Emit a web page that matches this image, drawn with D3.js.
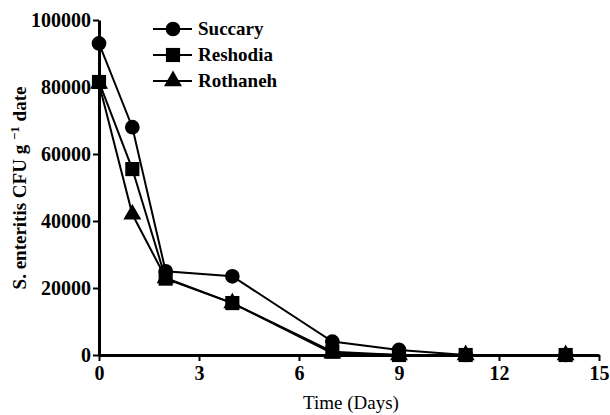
<!DOCTYPE html>
<html>
<head>
<meta charset="utf-8">
<script src="https://cdn.jsdelivr.net/npm/d3@7"></script>
<style>
  body { margin: 0; background: #fff; }
  text { font-family: "Liberation Serif", "DejaVu Serif", serif; }
</style>
</head>
<body>
<div id="chart"></div>
<script>
// data
const days = [0, 1, 2, 4, 7, 9, 11, 14]
const succary = [93000, 68000, 25000, 23500, 4000, 1500, 0, 0]
const reshodia = [81500, 55500, 22800, 15500, 1000, 0, 0, 0]
const rothaneh = [81000, 42000, 23000, 15500, 500, 0, 0, 0]
const seriesNames = ['Succary', 'Reshodia', 'Rothaneh']
const xTicks = [0, 3, 6, 9, 12, 15]
const yTicks = [0, 20000, 40000, 60000, 80000, 100000]

const width = 610, height = 415
const margin = { top: 20, right: 11, bottom: 60, left: 99 }
const innerW = width - margin.left - margin.right
const innerH = height - margin.top - margin.bottom

const svg = d3.select('#chart').append('svg')
  .attr('width', width)
  .attr('height', height)

const g = svg.append('g').attr('transform', `translate(${margin.left},${margin.top})`)

const x = d3.scaleLinear().domain([0, 15]).range([0, innerW])
const y = d3.scaleLinear().domain([0, 100000]).range([innerH, 0])

// axes
g.append('g')
  .attr('transform', `translate(0,${innerH})`)
  .call(d3.axisBottom(x).tickValues(xTicks).tickFormat(d3.format('d'))
    .tickSize(6).tickSizeOuter(0).tickPadding(5))
g.append('g')
  .call(d3.axisLeft(y).tickValues(yTicks).tickFormat(d3.format('d'))
    .tickSize(6).tickSizeOuter(0).tickPadding(2))

g.selectAll('.domain').attr('stroke', '#000').attr('stroke-width', 3)
g.selectAll('.tick line').attr('stroke', '#000').attr('stroke-width', 2)
g.selectAll('.tick text')
  .attr('fill', '#000')
  .attr('font-size', '20px')
  .attr('font-weight', 'bold')
  .style('font-family', '"Liberation Serif", serif')

// axis titles
svg.append('text')
  .attr('x', 351)
  .attr('y', 409)
  .attr('text-anchor', 'middle')
  .attr('font-size', '19px')
  .text('Time (Days)')

const yTitle = svg.append('text')
  .attr('transform', 'translate(26,188) rotate(-90)')
  .attr('text-anchor', 'middle')
  .attr('font-size', '19px')
  .attr('font-weight', 'bold')
yTitle.append('tspan').text('S. enteritis CFU g ')
yTitle.append('tspan').attr('dy', -7).attr('font-size', '13px').text('\u22121')
yTitle.append('tspan').attr('dy', 7).text(' date')

// series
const series = [
  { name: seriesNames[0], values: succary, symbol: d3.symbolCircle, size: 170 },
  { name: seriesNames[1], values: reshodia, symbol: d3.symbolSquare, size: 200 },
  { name: seriesNames[2], values: rothaneh, symbol: d3.symbolTriangle, size: 140 },
]

const line = d3.line()
  .x((d, i) => x(days[i]))
  .y(d => y(d))

// draw in reverse so Succary sits on top
series.slice().reverse().forEach(s => {
  g.append('path')
    .datum(s.values)
    .attr('d', line)
    .attr('fill', 'none')
    .attr('stroke', '#000')
    .attr('stroke-width', 2)

  g.selectAll(null)
    .data(s.values)
    .join('path')
    .attr('transform', (d, i) => `translate(${x(days[i])},${y(d)})`)
    .attr('d', d3.symbol().type(s.symbol).size(s.size))
    .attr('fill', '#000')
})

// legend
const legend = svg.append('g').attr('transform', 'translate(153,29)')
series.forEach((s, i) => {
  const row = legend.append('g').attr('transform', `translate(0,${i * 26})`)
  row.append('line')
    .attr('x1', 0).attr('x2', 39)
    .attr('stroke', '#000').attr('stroke-width', 2)
  row.append('path')
    .attr('transform', 'translate(20,0)')
    .attr('d', d3.symbol().type(s.symbol).size(s.size))
    .attr('fill', '#000')
  row.append('text')
    .attr('x', 45)
    .attr('y', 6)
    .attr('font-size', '19px')
    .attr('font-weight', 'bold')
    .text(s.name)
})
</script>
</body>
</html>
